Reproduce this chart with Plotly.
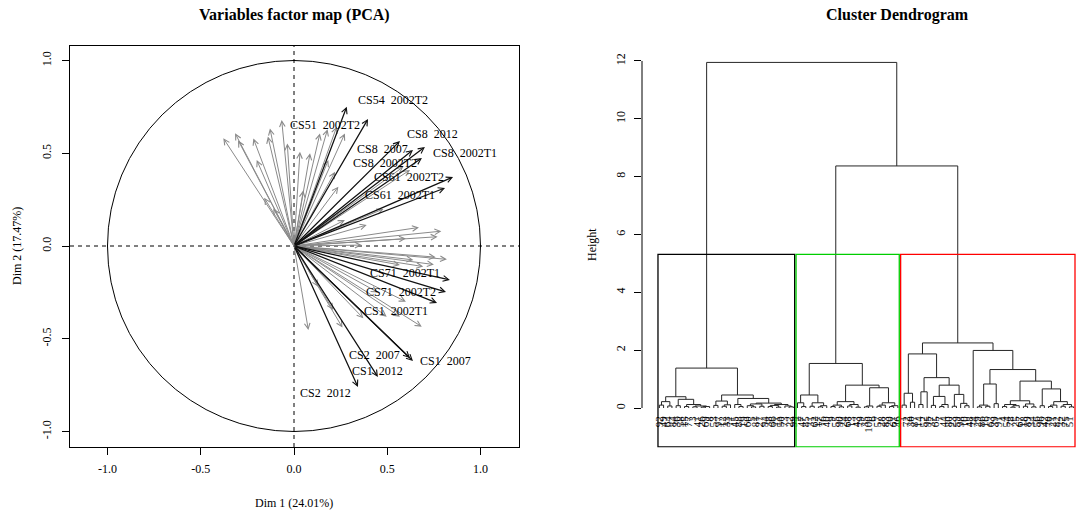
import plotly.graph_objects as go

W, H = 1077, 512
FONT = "Liberation Serif"

# ---------------- PCA: variables factor map ----------------
sel_names = ["CS54\u00a0\u00a02002T2", "CS51\u00a0\u00a02002T2", "CS8\u00a0\u00a02012", "CS8\u00a0\u00a02002T1",
             "CS8\u00a0\u00a02007", "CS8\u00a0\u00a02002T2", "CS61\u00a0\u00a02002T2", "CS61\u00a0\u00a02002T1",
             "CS71\u00a0\u00a02002T1", "CS71\u00a0\u00a02002T2", "CS1\u00a0\u00a02002T1", "CS2\u00a0\u00a02007",
             "CS1\u00a0\u00a02007", "CS1\u00a0\u00a02012", "CS2\u00a0\u00a02012"]
sel_dim1 = [0.283, 0.397, 0.568, 0.702, 0.638, 0.686, 0.853, 0.810, 0.836, 0.815, 0.767, 0.622, 0.638, 0.450, 0.343]
sel_dim2 = [0.751, 0.685, 0.566, 0.534, 0.518, 0.474, 0.372, 0.313, -0.183, -0.248, -0.307, -0.604, -0.620, -0.706, -0.760]
sel_lab_dim1 = [0.533, 0.165, 0.745, 0.915, 0.475, 0.486, 0.617, 0.568, 0.595, 0.574, 0.546, 0.433, 0.811, 0.450, 0.168]
sel_lab_dim2 = [0.787, 0.652, 0.604, 0.503, 0.523, 0.446, 0.374, 0.275, -0.147, -0.246, -0.349, -0.588, -0.618, -0.672, -0.794]

oth_dim1 = [-0.379, -0.316, -0.300, -0.218, -0.200, -0.140, -0.129, -0.066, -0.036, 0.032, 0.086, 0.139, 0.180,
            0.229, 0.273, 0.184, 0.220, 0.238, -0.111, -0.160, 0.050,
            0.586, 0.622, 0.273, 0.390, 0.480, 0.670, 0.790, 0.770, 0.600, 0.363, 0.820, 0.760, 0.693, 0.640,
            0.568, 0.750,
            0.685, 0.568, 0.497, 0.372, 0.260, 0.077, 0.210, 0.130, 0.450, 0.600]
oth_dim2 = [0.581, 0.608, 0.570, 0.580, 0.464, 0.590, 0.634, 0.679, 0.553, 0.508, 0.500, 0.607, 0.630,
            0.643, 0.607, 0.464, 0.400, 0.320, 0.203, 0.260, 0.300,
            0.427, 0.410, 0.140, 0.113, 0.200, 0.100, 0.080, 0.050, 0.040, 0.005, -0.072, -0.060, -0.111, -0.075,
            -0.102, -0.100,
            -0.435, -0.381, -0.381, -0.390, -0.440, -0.453, -0.345, -0.220, -0.250, -0.300]

pca_title = "Variables factor map (PCA)"
dim1_title = "Dim 1 (24.01%)"
dim2_title = "Dim 2 (17.47%)"
pca_ticks = [-1.0, -0.5, 0.0, 0.5, 1.0]
pca_ticktext = ["-1.0", "-0.5", "0.0", "0.5", "1.0"]

# ---------------- Dendrogram ----------------
leaf_labels = [92, 49, 64, 84, 36, 58, 15, 77, 3, 41, 26, 69, 8, 53, 97, 12, 33, 71, 45, 88, 19, 60, 5, 81, 27, 94,
               38, 66, 11, 50, 73, 22, 99,
               2, 47, 85, 31, 62, 17, 76, 40, 9, 55, 90, 24, 68, 13, 43, 79, 35, 100, 6, 57, 28, 83, 20, 61, 46,
               1, 72, 30, 87, 14, 52, 95, 37, 65, 7, 44, 80, 23, 59, 98, 10, 48, 74, 29, 86, 16, 63, 39, 91, 4, 54,
               78, 25, 67, 18, 89, 34, 56, 96, 42, 70, 21, 82, 32, 75, 51, 93]
# merge height between consecutive leaves (cophenetic height of neighbours)
merge_gaps = [0.10, 0.22, 0.07, 0.39, 0.08, 0.30, 0.05, 0.12, 0.04, 0.07, 0.03, 0.05, 1.38,
              0.09, 0.24, 0.06, 0.11, 0.45, 0.12, 0.05, 0.33, 0.08, 0.04, 0.14, 0.06, 0.17,
              0.05, 0.09, 0.03, 0.12, 0.07, 0.04, 11.95,
              0.18, 0.05, 0.45, 0.06, 0.18, 0.04, 0.08, 1.54, 0.05, 0.10, 0.04, 0.22, 0.07, 0.12, 0.03,
              0.79, 0.04, 0.07, 0.70, 0.06, 0.10, 0.18, 0.05, 0.08, 8.37,
              0.10, 0.51, 0.20, 1.87, 0.12, 0.56, 1.05, 0.09, 0.40, 0.05, 0.12, 0.79, 0.06, 0.47, 0.16,
              0.08, 2.25, 1.99, 0.04, 0.10, 0.06, 0.83, 0.15, 1.33, 0.05, 0.12, 0.03, 0.08, 0.25, 0.06,
              0.14, 0.04, 0.93, 0.08, 0.66, 0.05, 0.10, 0.22, 0.06, 0.12, 0.04]
cluster_sizes = [33, 25, 42]
cluster_colors = ["#000000", "#00CD00", "#FF0000"]
dendro_title = "Cluster Dendrogram"
height_title = "Height"
height_ticks = [0, 2, 4, 6, 8, 10, 12]

# ---------------- geometry (pixels of the output window) ----------------
LX0, LX1, LY0, LY1 = 70, 519, 46, 447
LOX, LOY, LSX, LSY = 294, 246, 186.5, 185.5
x1_range = [(LX0 - LOX) / LSX, (LX1 - LOX) / LSX]
y1_range = [(LOY - LY1) / LSY, (LOY - LY0) / LSY]
RX0, RX1, RY0, RY1 = 642, 1077, 46, 447.5
LEAF1_PX, LEAF_STEP, ZERO_PY, UNIT_PY = 659.4, 4.184, 408, 28.92
x2_range = [(RX0 - LEAF1_PX) / LEAF_STEP + 1, (RX1 - LEAF1_PX) / LEAF_STEP + 1]
y2_range = [(ZERO_PY - RY1) / UNIT_PY, (ZERO_PY - RY0) / UNIT_PY]


def px(v):
    return v / W


def py(v):
    return (H - v) / H


fig = go.Figure()

seg_x, seg_y = [], []


def build(lo, hi):
    if lo == hi:
        return lo + 1.0, 0.0
    k = max(range(lo, hi), key=lambda i: merge_gaps[i])
    h = merge_gaps[k]
    xl, hl = build(lo, k)
    xr, hr = build(k + 1, hi)
    seg_x.extend([xl, xl, xr, xr, None])
    seg_y.extend([hl, h, h, hr, None])
    return (xl + xr) / 2.0, h


build(0, len(leaf_labels) - 1)

fig.add_trace(go.Scatter(x=seg_x, y=seg_y, mode="lines", xaxis="x2", yaxis="y2",
                         line=dict(color="#262626", width=1), hoverinfo="skip", showlegend=False))
fig.add_trace(go.Scatter(x=[0], y=[0], mode="markers", marker=dict(size=0.1, color="rgba(0,0,0,0)"),
                         xaxis="x", yaxis="y", hoverinfo="skip", showlegend=False))

shapes = []
shapes.append(dict(type="circle", xref="x", yref="y", x0=-1, y0=-1, x1=1, y1=1,
                   line=dict(color="black", width=1)))
shapes.append(dict(type="line", xref="x", yref="y", x0=x1_range[0], x1=x1_range[1], y0=0, y1=0,
                   line=dict(color="black", width=1, dash="4px,4px")))
shapes.append(dict(type="line", xref="x", yref="y", x0=0, x1=0, y0=y1_range[0], y1=y1_range[1],
                   line=dict(color="black", width=1, dash="4px,4px")))

sorted_h = sorted(merge_gaps, reverse=True)
k = len(cluster_sizes)
rect_top = (sorted_h[k - 2] + sorted_h[k - 1]) / 2.0
start = 0
for size, col in zip(cluster_sizes, cluster_colors):
    shapes.append(dict(type="rect", xref="x2", yref="y2", x0=start + 0.66, x1=start + size + 0.33,
                       y0=y2_range[0] + 0.02, y1=rect_top, line=dict(color=col, width=1.3)))
    start += size

shapes.append(dict(type="line", xref="paper", yref="y2", x0=px(RX0), x1=px(RX0), y0=height_ticks[0],
                   y1=height_ticks[-1], line=dict(color="black", width=1)))

annotations = []
for x, y in zip(oth_dim1, oth_dim2):
    annotations.append(dict(x=x, y=y, ax=0, ay=0, xref="x", yref="y", axref="x", ayref="y", text="",
                            showarrow=True, arrowhead=5, arrowsize=1.1, arrowwidth=1,
                            arrowcolor="#8a8a8a", standoff=0))
for x, y in zip(sel_dim1, sel_dim2):
    annotations.append(dict(x=x, y=y, ax=0, ay=0, xref="x", yref="y", axref="x", ayref="y", text="",
                            showarrow=True, arrowhead=5, arrowsize=0.9, arrowwidth=1.25,
                            arrowcolor="#111111", standoff=0))
for name, x, y in zip(sel_names, sel_lab_dim1, sel_lab_dim2):
    annotations.append(dict(x=x, y=y, xref="x", yref="y", text=name, showarrow=False,
                            xanchor="center", yanchor="middle",
                            font=dict(family=FONT, size=12, color="black")))


def paper_text(x, y, text, size, angle=0):
    return dict(x=px(x), y=py(y), xref="paper", yref="paper", text=text, textangle=angle,
                xanchor="center", yanchor="middle", showarrow=False,
                font=dict(family=FONT, size=size, color="black"))


annotations.append(paper_text(294, 15, "<b>" + pca_title + "</b>", 16))
annotations.append(paper_text(897, 15, "<b>" + dendro_title + "</b>", 16))
annotations.append(paper_text(294, 503, dim1_title, 12))
annotations.append(paper_text(17, 246, dim2_title, 12, -90))
annotations.append(paper_text(592, 245, height_title, 12, -90))

tickfont = dict(family=FONT, size=12, color="black")
fig.update_layout(
    width=W, height=H, margin=dict(l=0, r=0, t=0, b=0),
    paper_bgcolor="white", plot_bgcolor="white", showlegend=False,
    font=dict(family=FONT, color="black"),
    xaxis=dict(domain=[px(LX0), px(LX1)], range=x1_range, anchor="y", showgrid=False, zeroline=False,
               showline=True, mirror=True, linecolor="black", linewidth=1, ticks="outside", ticklen=7,
               tickcolor="black", tickvals=pca_ticks, ticktext=pca_ticktext, tickfont=tickfont,
               ticklabelstandoff=4),
    yaxis=dict(domain=[py(LY1), py(LY0)], range=y1_range, anchor="x", showgrid=False, zeroline=False,
               showline=True, mirror=True, linecolor="black", linewidth=1, ticks="outside", ticklen=7,
               tickcolor="black", tickvals=pca_ticks, ticktext=pca_ticktext, tickfont=tickfont,
               tickangle=-90, ticklabelstandoff=6),
    xaxis2=dict(domain=[px(RX0), px(RX1)], range=x2_range, anchor="free", position=py(412),
                showgrid=False, zeroline=False, showline=False, ticks="",
                tickvals=list(range(1, len(leaf_labels) + 1)), ticktext=[str(v) for v in leaf_labels],
                tickangle=-90, tickfont=dict(family=FONT, size=11, color="black"), ticklabelstandoff=1),
    yaxis2=dict(domain=[py(RY1), py(RY0)], range=y2_range, anchor="x2", showgrid=False, zeroline=False,
                showline=False, ticks="outside", ticklen=7, tickcolor="black", tickvals=height_ticks,
                ticktext=[str(v) for v in height_ticks], tickfont=tickfont, tickangle=-90,
                ticklabelstandoff=4),
    shapes=shapes, annotations=annotations,
)

fig.write_html("out.html")
